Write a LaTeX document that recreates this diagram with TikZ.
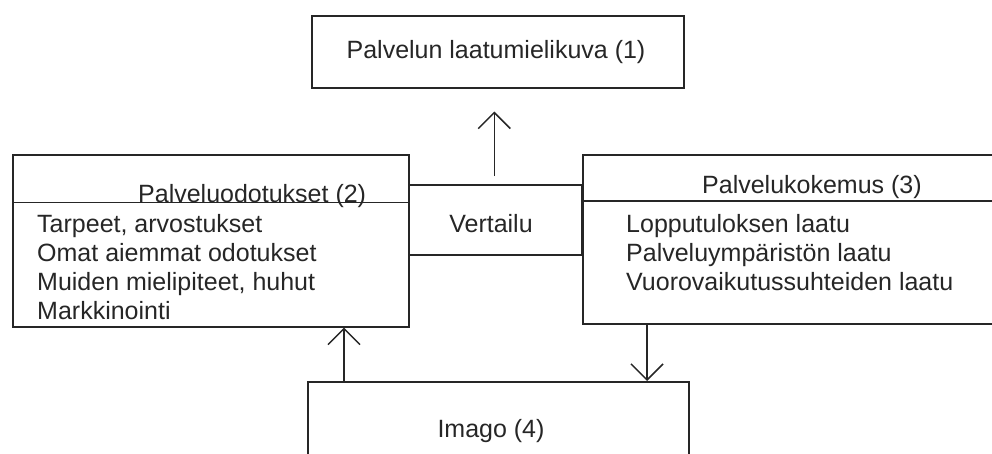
\documentclass[tikz,border=0pt]{standalone}
\usepackage{fontspec}
\setmainfont{Liberation Sans}
\usetikzlibrary{arrows.meta}
\definecolor{ink}{HTML}{262626}
\tikzset{
  x=1pt, y=-1pt,
  box/.style={draw=ink, line width=1.5pt, rectangle, inner sep=0pt, anchor=north west},
  txt/.style={text=ink, inner sep=0pt, font=\fontsize{25}{29}\selectfont},
  body/.style={txt, align=left, anchor=north west},
  conn/.style={draw=ink, line width=1.5pt, -{Straight Barb[length=16pt,width=32pt]}},
}
\begin{document}
\begin{tikzpicture}
\useasboundingbox (0,0) rectangle (992,453);
\begin{scope}
\clip (0,0) rectangle (992,453);
% boxes
\node[box, minimum width=372pt, minimum height=72pt] (top) at (311,15) {};
\node[box, minimum width=396pt, minimum height=172pt] (box2) at (12,154) {};
\node[box, minimum width=428pt, minimum height=169pt] (box3) at (582,154) {};
\node[box, minimum width=173pt, minimum height=70pt] (vert) at (408,184) {};
\node[box, minimum width=381pt, minimum height=100pt] (imago) at (307,381) {};
% header separators
\coordinate (s2) at (12,202.5);
\coordinate (s3) at (582,201);
\draw[draw=ink, line width=1.5pt] (s2) -- (s2 -| box2.east);
\draw[draw=ink, line width=1.5pt] (s3) -- (s3 -| box3.east);
% texts
\node[txt, anchor=base] (ttop) at (496,58) {Palvelun laatumielikuva (1)};
\node[txt, anchor=base west] (h2) at (138,202) {Palveluodotukset (2)};
\node[txt, anchor=base west] (h3) at (702,193) {Palvelukokemus (3)};
\node[body] (b2) at (37,214.5) {Tarpeet, arvostukset\\Omat aiemmat odotukset\\Muiden mielipiteet, huhut\\Markkinointi};
\node[body] (b3) at (626,214.5) {Lopputuloksen laatu\\Palveluympäristön laatu\\Vuorovaikutussuhteiden laatu};
\node[txt, anchor=base] (tvert) at (491,232) {Vertailu};
\node[txt, anchor=base] (timago) at (491,437) {Imago (4)};
% connectors
\draw[conn, shorten <=8pt, shorten >=23pt] ([xshift=-1pt]vert.north) -- ([xshift=-1pt]vert.north |- top.south);
\draw[conn] ([xshift=37pt]imago.north west) -- ([xshift=37pt]imago.north west |- box2.south);
\draw[conn] ([xshift=65pt]box3.south west) -- ([xshift=65pt]box3.south west |- imago.north);
\end{scope}
\end{tikzpicture}
\end{document}
